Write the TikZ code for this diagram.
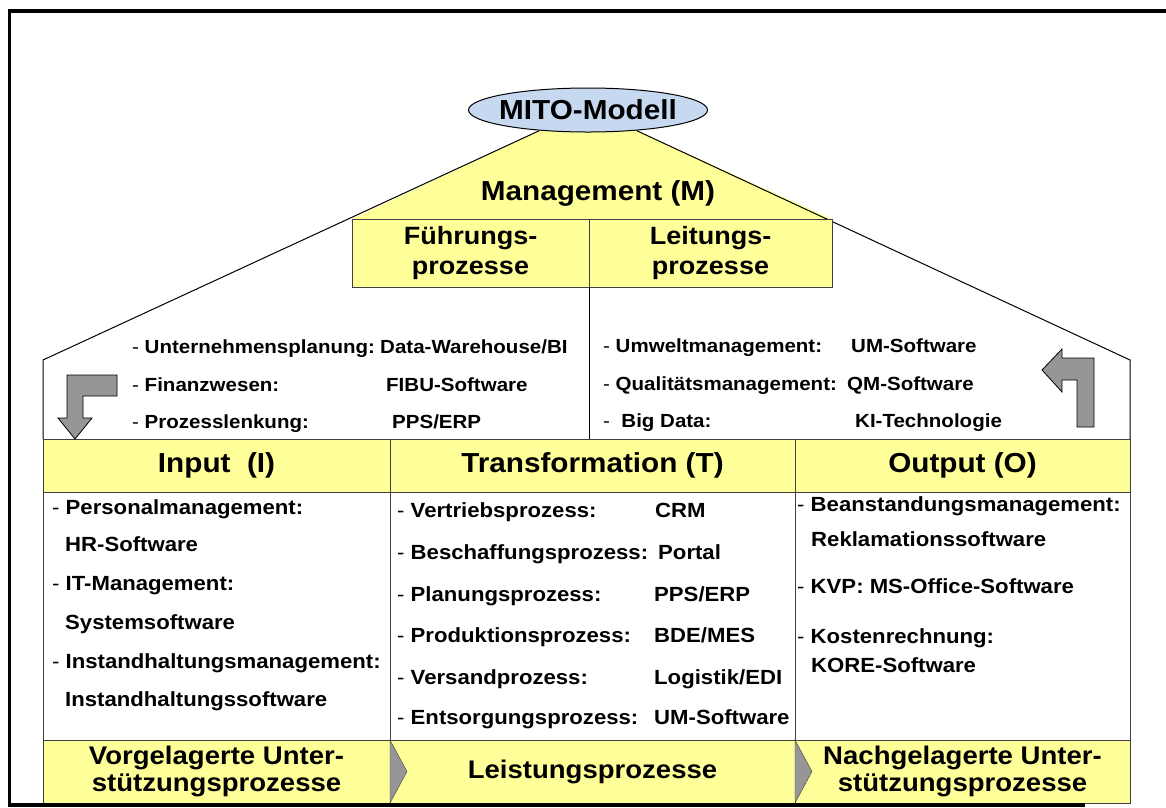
\documentclass[tikz,border=0pt]{standalone}
\usepackage{fontspec}
\setmainfont[FakeStretch=1.08]{Liberation Sans}
\usetikzlibrary{shapes.geometric, positioning, backgrounds}

\definecolor{gelb}{RGB}{255,255,153}
\definecolor{hellblau}{RGB}{198,217,241}
\definecolor{pfeilgrau}{RGB}{150,150,150}
\definecolor{linie}{RGB}{64,64,64}

\newcommand{\strich}{{\mdseries-}\ }

\tikzset{
  zelle/.style={draw=linie, line width=1pt, outer sep=0pt, inner sep=0pt, align=center},
  kopf/.style={zelle, fill=gelb, minimum height=53pt, font=\fontsize{27.5}{30}\selectfont\bfseries},
  feld/.style={zelle, fill=white, minimum height=248pt},
  fuss/.style={zelle, fill=gelb, minimum height=63pt, font=\fontsize{25.5}{27}\selectfont\bfseries},
  prozess/.style={zelle, fill=gelb, minimum height=68pt, font=\fontsize{25}{30}\selectfont\bfseries},
  eintrag/.style={anchor=base west, inner sep=0pt, font=\fontsize{20.5}{24}\selectfont\bfseries},
  lenkung/.style={eintrag, font=\fontsize{19}{22}\selectfont\bfseries},
  knick/.style={draw=black, fill=pfeilgrau, line width=0.8pt},
}

\begin{document}
\begin{tikzpicture}[x=1pt, y=-1pt]
\useasboundingbox (0,0) rectangle (1166,807);

% Dach: MITO-Modell und Management
\node[ellipse, draw, line width=1pt, fill=hellblau, minimum width=239pt, minimum height=44pt, inner sep=0pt,
  font=\fontsize{27.5}{30}\selectfont\bfseries] (mito) at (588,110) {\makebox[150pt]{MITO-Modell}};
\node[font=\fontsize{27.5}{30}\selectfont\bfseries] (management) at (598,193) {Management (M)};
\node[prozess, minimum width=237pt, anchor=north west] (fuehrung) at (352,219) {Führungs-\\prozesse};
\node[prozess, minimum width=243pt, right=0pt of fuehrung] (leitung) {Leitungs-\\prozesse};

\coordinate (dachL) at (43,360);
\coordinate (dachR) at (1130,360);

% Tabelle I - T - O
\node[kopf, minimum width=347pt, anchor=north west] (input) at (43,439) {Input\ \ (I)};
\node[kopf, minimum width=405pt, right=0pt of input] (trafo) {Transformation (T)};
\node[kopf, minimum width=335pt, right=0pt of trafo] (output) {Output (O)};
\node[feld, minimum width=347pt, below=0pt of input] (inputFeld) {};
\node[feld, minimum width=405pt, below=0pt of trafo] (trafoFeld) {};
\node[feld, minimum width=335pt, below=0pt of output] (outputFeld) {};
\node[fuss, minimum width=347pt, below=0pt of inputFeld] (vorgelagert) {Vorgelagerte Unter-\\stützungsprozesse};
\node[fuss, minimum width=405pt, below=0pt of trafoFeld] (leistung) {Leistungsprozesse};
\node[fuss, minimum width=335pt, below=0pt of outputFeld] (nachgelagert) {Nachgelagerte Unter-\\stützungsprozesse};

\begin{scope}[on background layer]
  \fill[gelb] (mito.203) -- (mito.337) -- (leitung.north east) -- (fuehrung.north west) -- cycle;
  \draw[line width=1pt] (mito.203) -- (dachL) -- (input.north west);
  \draw[line width=1pt] (mito.337) -- (dachR) -- (output.north east);
\end{scope}
\draw[line width=1pt] (fuehrung.south east) -- (fuehrung.south east |- trafo.north);

% Pfeile zwischen den Prozessen
\filldraw[fill=pfeilgrau, draw=linie] (leistung.north west) -- ([xshift=17pt]leistung.west) -- (leistung.south west) -- cycle;
\filldraw[fill=pfeilgrau, draw=linie] (nachgelagert.north west) -- ([xshift=17pt]nachgelagert.west) -- (nachgelagert.south west) -- cycle;

% Fuehrungsprozesse
\node[lenkung] (planung) at (132,353) {\strich Unternehmensplanung:};
\node[lenkung] (dwh) at (380,353) {Data-Warehouse/BI};
\node[lenkung] (finanz) at (132,391) {\strich Finanzwesen:};
\node[lenkung] (fibu) at (386,391) {FIBU-Software};
\node[lenkung] (prozesslenkung) at (132,428) {\strich Prozesslenkung:};
\node[lenkung] (ppsLenkung) at (392,428) {PPS/ERP};

% Leitungsprozesse
\node[lenkung] (umwelt) at (603,352) {\strich Umweltmanagement:};
\node[lenkung] (umSoft) at (851,352) {UM-Software};
\node[lenkung] (qualitaet) at (603,390) {\strich Qualitätsmanagement:};
\node[lenkung] (qmSoft) at (847,390) {QM-Software};
\node[lenkung] (bigData) at (603,427) {\strich\ Big Data:};
\node[lenkung] (ki) at (855,427) {KI-Technologie};

% Rueckkopplung
\draw[knick] (117,375) -- (67,375) -- (67,418) -- (58,418) -- (75,439) -- (92,418) -- (83,418) -- (83,396) -- (117,396) -- cycle;
\draw[knick] (1077,427) -- (1077,380) -- (1062,380) -- (1062,392) -- (1042,370) -- (1062,349) -- (1062,358) -- (1094,358) -- (1094,427) -- cycle;

% Input
\node[eintrag] (personal) at (52,514) {\strich Personalmanagement:};
\node[eintrag] (hr) at (65,551) {HR-Software};
\node[eintrag] (it) at (52,590) {\strich IT-Management:};
\node[eintrag] (system) at (65,629) {Systemsoftware};
\node[eintrag] (instand) at (52,668) {\strich Instandhaltungsmanagement:};
\node[eintrag] (instandSoft) at (65,706) {Instandhaltungssoftware};

% Transformation
\node[eintrag] (vertrieb) at (397,517) {\strich Vertriebsprozess:};
\node[eintrag] (crm) at (655,517) {CRM};
\node[eintrag] (beschaffung) at (397,559) {\strich Beschaffungsprozess:};
\node[eintrag] (portal) at (658,559) {Portal};
\node[eintrag] (planungsprozess) at (397,601) {\strich Planungsprozess:};
\node[eintrag] (ppsPlanung) at (654,601) {PPS/ERP};
\node[eintrag] (produktion) at (397,642) {\strich Produktionsprozess:};
\node[eintrag] (bde) at (654,642) {BDE/MES};
\node[eintrag] (versand) at (397,684) {\strich Versandprozess:};
\node[eintrag] (logistik) at (654,684) {Logistik/EDI};
\node[eintrag] (entsorgung) at (397,724) {\strich Entsorgungsprozess:};
\node[eintrag] (umEntsorgung) at (654,724) {UM-Software};

% Output
\node[eintrag] (beanstandung) at (797,511) {\strich Beanstandungsmanagement:};
\node[eintrag] (reklamation) at (811,546) {Reklamationssoftware};
\node[eintrag] (kvp) at (797,593) {\strich KVP: MS-Office-Software};
\node[eintrag] (kosten) at (797,643) {\strich Kostenrechnung:};
\node[eintrag] (kore) at (811,672) {KORE-Software};

% Rahmen
\draw[line width=3.5pt] (1170,11) -- (9.5,11) -- (9.5,805) -- (1085,805);
\end{tikzpicture}
\end{document}
